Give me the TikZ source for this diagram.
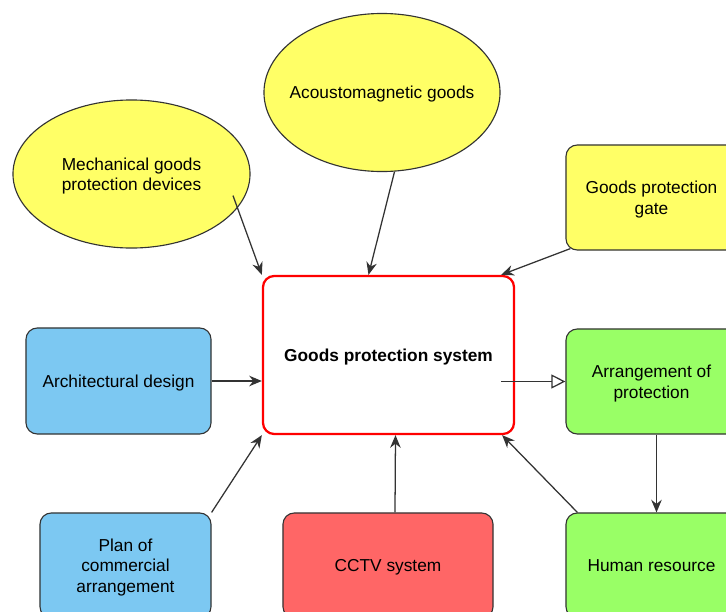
\documentclass[tikz,border=0pt]{standalone}
\usepackage{fontspec}
\setmainfont{Liberation Sans}
\usetikzlibrary{shapes.geometric,arrows.meta,calc}
\definecolor{ellyellow}{HTML}{FFFF66}
\definecolor{boxblue}{HTML}{7CC8F2}
\definecolor{boxgreen}{HTML}{99FF66}
\definecolor{boxred}{HTML}{FF6666}
\definecolor{edgegray}{HTML}{333333}
\newcommand{\diagfont}{\fontsize{12.3}{14.6}\selectfont}
\begin{document}
\begin{tikzpicture}[x=0.025cm, y=-0.025cm, >={Stealth[length=9pt,width=7.5pt]},
  every node/.style={font=\diagfont, align=center, text depth=0pt},
  box/.style={draw=edgegray, line width=0.8pt, rounded corners=8pt, minimum width=4.275cm, minimum height=2.625cm},
  ellip/.style={ellipse, draw=edgegray, line width=0.8pt, fill=ellyellow, inner sep=0pt},
  link/.style={->, draw=edgegray, line width=0.9pt}]
\useasboundingbox (0,0) rectangle (726,612);
\node[ellip, minimum width=5.925cm, minimum height=3.7cm, label={[align=center]center:Mechanical goods\\protection devices}] (mech) at (131.5,174) {};
\node[ellip, minimum width=5.9cm, minimum height=3.95cm, label={center:Acoustomagnetic goods}] (acou) at (382,92.5) {};
\node[box, fill=ellyellow] (gate) at (651.5,197.5) {Goods protection\\gate};
\node[box, draw=red, line width=1.6pt, fill=white, minimum width=6.275cm, minimum height=3.95cm, font=\diagfont\bfseries] (gps) at (388.5,355) {Goods protection system};
\node[box, fill=boxblue, minimum width=4.625cm, minimum height=2.65cm] (arch) at (118.5,381) {Architectural design};
\node[box, fill=boxgreen] (arr) at (651.5,381.5) {Arrangement of\\protection};
\node[box, fill=boxblue] (plan) at (125.5,565.5) {Plan of\\commercial\\arrangement};
\node[box, fill=boxred, minimum width=5.25cm] (cctv) at (388,565.5) {CCTV system};
\node[box, fill=boxgreen] (hum) at (651.5,565.5) {Human resource};
\draw[link] ($(mech.center)!0.9!(mech.-12)$) -- (gps.north west);
\draw[link] (acou.-81) -- ($(gps.north)+(-20,0)$);
\draw[link] ($(gate.south west)+(5,-2)$) -- ($(gps.north east)+(-14,0)$);
\draw[link] (arch.east) -- (arch.east -| gps.west);
\draw[draw=edgegray, line width=0.9pt, -{Triangle[open, length=10pt, width=10pt]}] ($(arr.west -| gps.east)+(-14,0)$) -- (arr.west);
\draw[link] ($(arr.south)+(5,0)$) -- ($(hum.north)+(5,0)$);
\draw[link] (plan.north east) -- (gps.south west);
\draw[link] ($(cctv.north)+(7,0)$) -- ($(gps.south)+(7,0)$);
\draw[link] ($(hum.north west)+(12,0)$) -- ($(gps.south east)+(-13,0)$);
\end{tikzpicture}
\end{document}
